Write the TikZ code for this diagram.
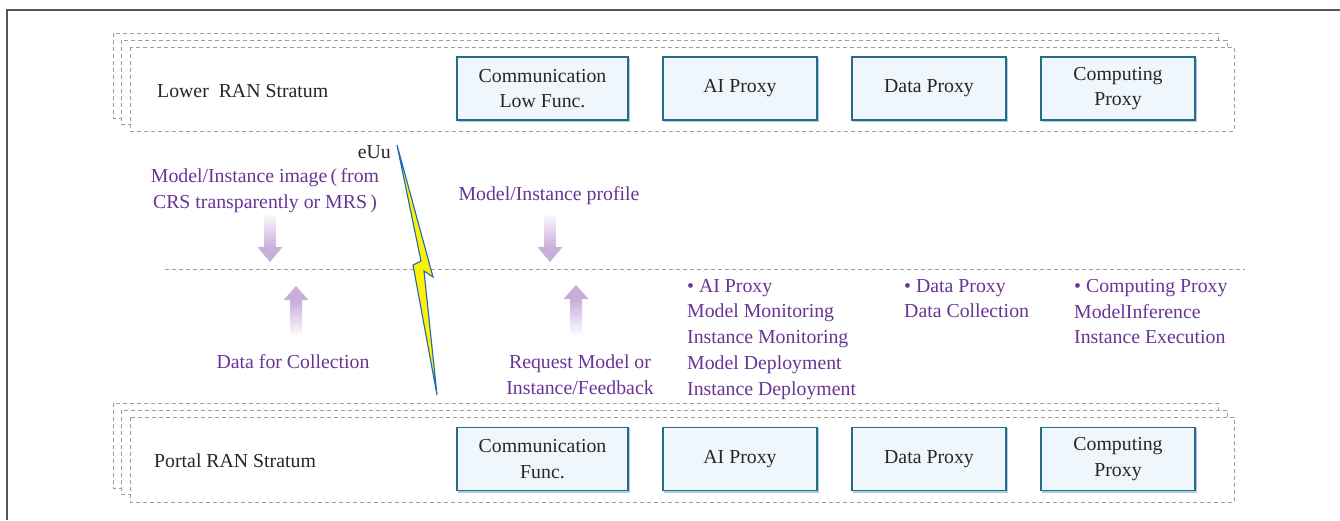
\documentclass[tikz,border=0pt]{standalone}
\usepackage{fontspec}
\setmainfont{Liberation Serif}

\definecolor{labpurple}{RGB}{104,52,150}
\definecolor{arrowpurple}{RGB}{200,174,218}
\definecolor{fadewhite}{RGB}{250,247,252}
\definecolor{boxfill}{RGB}{239,247,253}
\definecolor{boxline}{RGB}{38,108,135}
\definecolor{boxshade}{RGB}{172,206,226}
\definecolor{stratline}{RGB}{158,158,158}
\definecolor{framegray}{RGB}{85,85,85}
\definecolor{boltblue}{RGB}{25,105,190}
\definecolor{boltyellow}{RGB}{255,240,0}

\newcommand\labelsize{\fontsize{19.8}{25.7}\selectfont}

\tikzset{
  stratum/.style={draw=stratline, dash pattern=on 4pt off 3pt, line width=1pt, fill=white},
  divider/.style={draw=stratline, dash pattern=on 4pt off 3pt, line width=1pt},
  func/.style={draw=boxline, line width=1.2pt, fill=boxfill, minimum height=63pt,
    minimum width=154pt, align=center, text=black!85, font=\labelsize, inner sep=0pt,
    preaction={draw=boxshade, line width=1.4pt, transform canvas={shift={(1.4pt,-1.4pt)}}}},
  strlabel/.style={text=black!85, font=\labelsize, inner sep=0pt},
  lbl/.style={text=labpurple, font=\labelsize, inner sep=0pt},
  downarrow/.pic={
    \shade[top color=fadewhite, bottom color=arrowpurple] (-5.5,-47) rectangle (5.5,-14);
    \fill[arrowpurple] (-12.5,-15) -- (12.5,-15) -- (0,0) -- cycle;
  },
  uparrow/.pic={
    \shade[top color=arrowpurple, bottom color=fadewhite] (-6,14) rectangle (6,48);
    \fill[arrowpurple] (-12.5,14) -- (12.5,14) -- (0,0) -- cycle;
  },
}

\begin{document}
\begin{tikzpicture}[x=1pt,y=-1pt]
\useasboundingbox (0,0) rectangle (1340,520);

% outer frame
\draw[framegray, line width=1.5pt] (7,520) -- (7,10) -- (1340,10);

% lower RAN stratum (stacked copies)
\path[stratum] (113,33) rectangle (1218,118);
\path[stratum] (121,40) rectangle (1227,124);
\path[stratum] (130,47) rectangle (1234,131);
\node[strlabel, anchor=west] (lowname) at (157,91) {Lower\ \ RAN Stratum};
\node[func, minimum width=171pt] (lcomm) at (542.5,88.5) {Communication\\Low Func.};
\node[func] (lai) at (740,88.5) {AI Proxy};
\node[func] (ldata) at (929,88.5) {Data Proxy};
\node[func] (lcomp) at (1118,88.5) {Computing\\Proxy};

% portal RAN stratum (stacked copies)
\path[stratum] (113,403) rectangle (1218,488);
\path[stratum] (121,410) rectangle (1227,494);
\path[stratum] (130,417) rectangle (1234,502);
\node[strlabel, anchor=west] (portname) at (154,461) {Portal RAN Stratum};
\node[func, minimum width=171pt] (pcomm) at (542.5,459) {Communication\\Func.};
\node[func] (pai) at (740,459) {AI Proxy};
\node[func] (pdata) at (929,459) {Data Proxy};
\node[func] (pcomp) at (1118,459) {Computing\\Proxy};

% boundary between the strata
\draw[divider] (165,269) -- (1245,269);

% eUu radio link
\draw[boltblue, fill=boltyellow, line width=1.1pt, line join=miter]
  (397,145) -- (433,277) -- (424,271) -- (437,395) -- (413,265) -- (421,261) -- cycle;
\node[strlabel, anchor=east] (euu) at (391,152) {eUu};

% flows across the boundary
\node[lbl, align=center] (imglbl) at (265,190.5)
  {Model/Instance image\,(\,from\\CRS transparently or MRS\,)};
\pic at (270,262) {downarrow};
\node[lbl] (proflbl) at (549,196) {Model/Instance profile};
\pic at (550,262) {downarrow};
\pic at (296,286) {uparrow};
\node[lbl] (datalbl) at (293,362) {Data for Collection};
\pic at (576,285) {uparrow};
\node[lbl, align=center] (reqlbl) at (580,375) {Request Model or\\Instance/Feedback};

% proxy functions
\node[lbl, align=left, anchor=north west] (aifun) at (687,279)
  {• AI Proxy\\Model Monitoring\\Instance Monitoring\\Model Deployment\\Instance Deployment};
\node[lbl, align=left, anchor=north west] (datafun) at (904,279)
  {• Data Proxy\\Data Collection};
\node[lbl, align=left, anchor=north west] (compfun) at (1074,279)
  {• Computing Proxy\\ModelInference\\Instance Execution};
\end{tikzpicture}
\end{document}
